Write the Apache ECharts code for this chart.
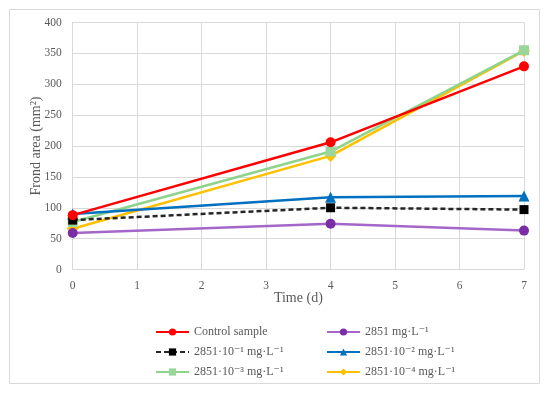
<!DOCTYPE html>
<html><head><meta charset="utf-8">
<script src="https://cdn.jsdelivr.net/npm/echarts@6/dist/echarts.min.js"></script>
<style>html,body{margin:0;padding:0;background:#fff}#c{width:550px;height:394px}</style>
</head><body><div id="c"></div>
<script>
const times = [0, 4, 7];
const seriesNames = ['Control sample', '2851 mg·L⁻¹', '2851·10⁻¹ mg·L⁻¹', '2851·10⁻² mg·L⁻¹', '2851·10⁻³ mg·L⁻¹', '2851·10⁻⁴ mg·L⁻¹'];
const control = [88, 206, 329];
const c2851 = [59, 74, 63];
const c2851e1 = [80, 100, 97];
const c2851e2 = [90, 117, 119];
const c2851e3 = [77, 191, 355];
const c2851e4 = [66, 184, 354];
const yTicks = [0, 50, 100, 150, 200, 250, 300, 350, 400];
const xTicks = [0, 1, 2, 3, 4, 5, 6, 7];

const values = [control, c2851, c2851e1, c2851e2, c2851e3, c2851e4];
const styles = [
  {line: '#ff0000', mark: '#ff0000', symbol: 'circle', size: 10, type: 'solid'},
  {line: '#a466c9', mark: '#7a2ea6', symbol: 'circle', size: 10, type: 'solid'},
  {line: '#262626', mark: '#000000', symbol: 'rect', size: 9, type: [5, 3]},
  {line: '#0070c0', mark: '#0070c0', symbol: 'triangle', size: 11, type: 'solid'},
  {line: '#8fd38b', mark: '#9ad69a', symbol: 'rect', size: 10, type: 'solid'},
  {line: '#ffc000', mark: '#ffc000', symbol: 'diamond', size: 12, type: 'solid'}
];
const txt = '#595959';
const font = 'Liberation Serif, DejaVu Serif, serif';

const series = values.map((v, i) => ({
  name: seriesNames[i],
  type: 'line',
  data: times.map((t, j) => [t, v[j]]),
  symbol: styles[i].symbol,
  symbolSize: styles[i].size,
  lineStyle: {color: styles[i].line, width: 2.5, type: styles[i].type},
  itemStyle: {color: styles[i].mark, borderWidth: 0},
  z: 10 - i
}));

const legendBase = {
  orient: 'vertical', itemWidth: 33, itemHeight: 9, itemGap: 8,
  textStyle: {color: txt, fontFamily: font, fontSize: 12}
};

const chart = echarts.init(document.getElementById('c'));
chart.setOption({
  backgroundColor: '#fff',
  animation: false,
  graphic: [{type: 'rect', shape: {x: 9.5, y: 9.5, width: 530, height: 374}, style: {fill: 'none', stroke: '#d9d9d9', lineWidth: 1}}],
  grid: {left: 72.7, right: 26, top: 22.5, bottom: 124.5, containLabel: false},
  xAxis: {
    type: 'value', min: 0, max: 7, interval: 1,
    name: 'Time (d)', nameLocation: 'middle', nameGap: 22, nameMoveOverlap: false,
    nameTextStyle: {color: txt, fontFamily: font, fontSize: 14},
    axisLine: {show: true, lineStyle: {color: '#d9d9d9', width: 1}},
    axisTick: {show: false},
    axisLabel: {color: txt, fontFamily: font, fontSize: 11.5, margin: 10},
    splitLine: {show: true, lineStyle: {color: '#d9d9d9'}}
  },
  yAxis: {
    type: 'value', min: 0, max: 400, interval: 50,
    name: 'Frond area (mm²)', nameLocation: 'middle', nameGap: 29, nameMoveOverlap: false,
    nameTextStyle: {color: txt, fontFamily: font, fontSize: 14},
    axisLine: {show: true, lineStyle: {color: '#d9d9d9', width: 1}},
    axisTick: {show: false},
    axisLabel: {color: txt, fontFamily: font, fontSize: 11.5, margin: 11},
    splitLine: {show: true, lineStyle: {color: '#d9d9d9'}}
  },
  legend: [
    Object.assign({left: 150, top: 321, data: [seriesNames[0], seriesNames[2], seriesNames[4]]}, legendBase),
    Object.assign({left: 321, top: 321, data: [seriesNames[1], seriesNames[3], seriesNames[5]]}, legendBase)
  ],
  series: series
});
</script></body></html>
